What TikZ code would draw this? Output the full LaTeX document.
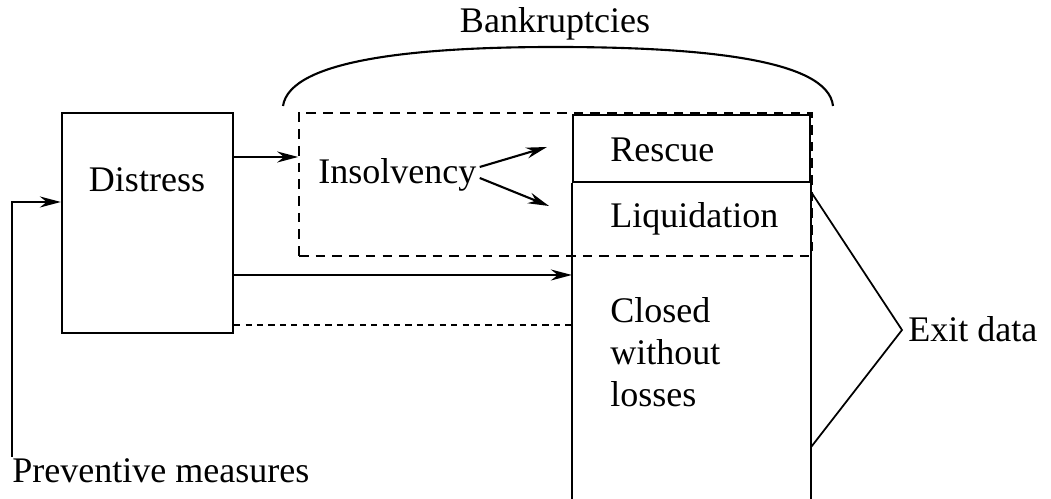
\documentclass[tikz,border=0pt]{standalone}
\usepackage{fontspec}
\setmainfont{Liberation Serif}
\usetikzlibrary{arrows.meta, positioning, calc}

\begin{document}
\begin{tikzpicture}[
  x=0.02cm, y=0.02cm,
  font=\fontsize{20.5}{24.5}\selectfont,
  box/.style={rectangle, draw, line width=1.3pt, inner sep=0pt},
  dashbox/.style={rectangle, draw, line width=1pt, dash pattern=on 5.5pt off 4pt, inner sep=0pt},
  arr/.style={-{Stealth[length=4.2mm,width=2.2mm]}, line width=1.2pt},
  lbl/.style={inner sep=0pt, anchor=base west}
]
  \useasboundingbox (0,0) rectangle (1051,499);

  %% boxes
  \node[box, minimum width=3.42cm, minimum height=4.4cm] (distress) at (147.5,276) {};
  \node[dashbox, minimum width=10.26cm, minimum height=2.86cm] (insbox) at (555.5,314.5) {};
  \node[box, minimum width=4.74cm, minimum height=1.34cm] (rescue) at (691.5,350.5) {};
  \coordinate (bottom) at (0,0);
  \draw[line width=1.3pt] (rescue.south west) -- (rescue.south west |- bottom);
  \draw[line width=1.3pt] (rescue.south east) -- (rescue.south east |- bottom);

  %% labels
  \node[anchor=base] (distresslbl) at (147,307) {Distress};
  \node[lbl] (ins) at (318,315) {Insolvency};
  \node[lbl] (rescuelbl) at (610,337) {Rescue};
  \node[lbl] (liqlbl) at (610,271) {Liquidation};
  \node[lbl] (closedlbl) at (610,176) {Closed};
  \node[lbl] (withoutlbl) at (610,134) {without};
  \node[lbl] (losseslbl) at (610,92) {losses};
  \node[lbl] (exitlbl) at (908,157) {Exit data};
  \node[anchor=base] (bankrlbl) at (555,466) {Bankruptcies};
  \node[lbl] (prevlbl) at (12,16) {Preventive measures};

  %% helper points
  \coordinate (feedlow) at (12,42);
  \coordinate (toins) at (0,342);
  \coordinate (toclosed) at (0,224);
  \coordinate (todash) at (0,174);
  \coordinate (apex) at (902,169);

  %% connectors
  \draw[arr] (feedlow) -- (feedlow |- 0,297) -- (distress.west |- 0,297);
  \draw[arr] (distress.east |- toins) -- (insbox.west |- toins);
  \draw[arr] (ins.east |- 0,332) ++(3,0) -- (547,352);
  \draw[arr] (ins.east |- 0,321) ++(3,0) -- (549,293);
  \draw[arr] (distress.east |- toclosed) -- (rescue.west |- toclosed);
  \draw[line width=0.9pt, dash pattern=on 3.5pt off 3pt] (distress.east |- todash) -- (rescue.west |- todash);

  %% exit data bracket
  \draw[line width=1pt] (rescue.east |- 0,307) -- (apex) -- (rescue.east |- 0,52);

  %% bankruptcies arc
  \draw[line width=1.2pt] (283,393) .. controls (290,440) and (420,452) .. (555,452)
    .. controls (700,452) and (828,440) .. (833,393);
\end{tikzpicture}
\end{document}
